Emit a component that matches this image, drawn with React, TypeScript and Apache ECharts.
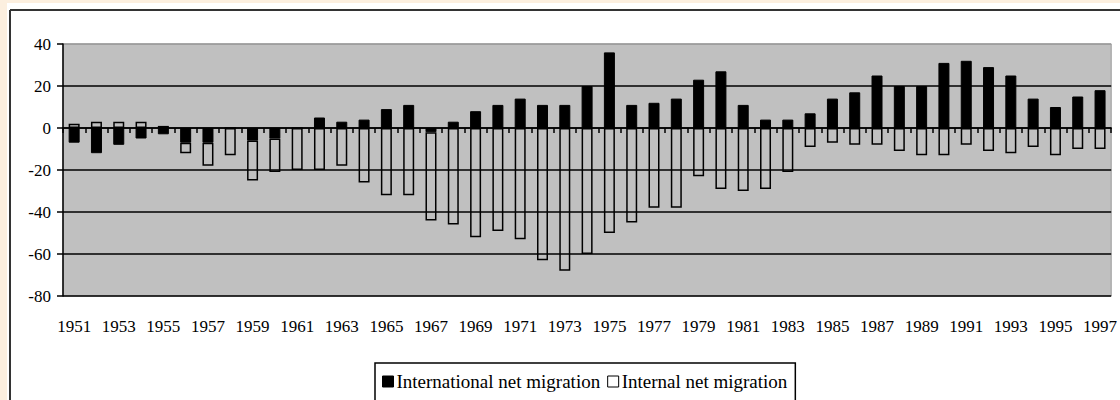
import React, { useEffect, useRef } from "react";
import * as echarts from "echarts";

const years = [
  "1951","1952","1953","1954","1955","1956","1957","1958","1959","1960",
  "1961","1962","1963","1964","1965","1966","1967","1968","1969","1970",
  "1971","1972","1973","1974","1975","1976","1977","1978","1979","1980",
  "1981","1982","1983","1984","1985","1986","1987","1988","1989","1990",
  "1991","1992","1993","1994","1995","1996","1997",
];

const international = [
  -7, -12, -8, -5, -3, -7, -7, 0, -6, -5,
  0, 5, 3, 4, 9, 11, -2, 3, 8, 11,
  14, 11, 11, 20, 36, 11, 12, 14, 23, 27,
  11, 4, 4, 7, 14, 17, 25, 20, 20, 31,
  32, 29, 25, 14, 10, 15, 18,
];

const internal = [
  2, 3, 3, 3, 1, -5, -11, -13, -19, -16,
  -20, -20, -18, -26, -32, -32, -42, -46, -52, -49,
  -53, -63, -68, -60, -50, -45, -38, -38, -23, -29,
  -30, -29, -21, -9, -7, -8, -8, -11, -13, -13,
  -8, -11, -12, -9, -13, -10, -10,
];

const yTicks = { min: -80, max: 40, interval: 20 };

const seriesNames = ["International net migration", "Internal net migration"];

const FONT = "'Liberation Serif', 'Times New Roman', serif";

export default function App() {
  const ref = useRef<HTMLDivElement>(null);

  useEffect(() => {
    if (!ref.current) return;
    const chart = echarts.init(ref.current, null, { renderer: "svg" });
    chart.setOption({
      animation: false,
      backgroundColor: "#ffffff",
      graphic: [
        { type: "rect", shape: { x: 0, y: 0, width: 1120, height: 3 }, style: { fill: "#fcefdf" }, silent: true },
        { type: "rect", shape: { x: 0, y: 0, width: 7, height: 400 }, style: { fill: "#fcefdf" }, silent: true },
        { type: "line", shape: { x1: 10, y1: 10, x2: 1120, y2: 10 }, style: { stroke: "#333", lineWidth: 2 }, silent: true },
        { type: "line", shape: { x1: 10, y1: 10, x2: 10, y2: 400 }, style: { stroke: "#333", lineWidth: 2 }, silent: true },
      ],
      grid: {
        left: 63,
        right: 4,
        top: 44,
        bottom: 104,
        show: true,
        backgroundColor: "#c0c0c0",
        borderColor: "#9a9a9a",
        borderWidth: 1,
      },
      legend: {
        data: [
          { name: seriesNames[0], itemStyle: { color: "#000", borderColor: "#000", borderWidth: 1 } },
          { name: seriesNames[1], itemStyle: { color: "#fff", borderColor: "#000", borderWidth: 1 } },
        ],
        left: 375,
        top: 363,
        itemWidth: 11,
        itemHeight: 11,
        itemGap: 7,
        icon: "rect",
        borderColor: "#000",
        borderWidth: 1.5,
        padding: [9, 8, 10, 7],
        textStyle: { fontFamily: FONT, fontSize: 19, color: "#000", padding: [0, 0, 0, -2] },
      },
      xAxis: {
        type: "category",
        data: years,
        boundaryGap: true,
        axisLine: { show: true, lineStyle: { color: "#000", width: 1.5 } },
        axisTick: { show: true, interval: 0, length: 5, alignWithLabel: false, lineStyle: { color: "#000", width: 1.5 } },
        axisLabel: { interval: 1, fontFamily: FONT, fontSize: 17, color: "#000", margin: 22 },
        splitLine: { show: false },
      },
      yAxis: {
        type: "value",
        min: yTicks.min,
        max: yTicks.max,
        interval: yTicks.interval,
        axisLine: { show: true, lineStyle: { color: "#000", width: 1.5 } },
        axisTick: { show: true, inside: false, length: 6, lineStyle: { color: "#000", width: 1.5 } },
        axisLabel: { fontFamily: FONT, fontSize: 17, color: "#000", margin: 12 },
        splitLine: {
          show: true,
          lineStyle: { color: ["#000", "#000", "#000", "#000", "#000", "#000", "#9a9a9a"], width: 1.5 },
        },
      },
      series: [
        {
          name: seriesNames[0],
          type: "bar",
          stack: "mig",
          data: international,
          barWidth: 11,
          itemStyle: { color: "#000", borderColor: "#000", borderWidth: 1 },
        },
        {
          name: seriesNames[1],
          type: "bar",
          stack: "mig",
          data: internal,
          barWidth: 11,
          itemStyle: { color: "rgba(0,0,0,0)", borderColor: "#000", borderWidth: 1.5 },
        },
      ],
    });
    return () => chart.dispose();
  }, []);

  return (
    <div
      ref={ref}
      style={{ position: "absolute", left: 0, top: 0, width: 1120, height: 400 }}
    />
  );
}
